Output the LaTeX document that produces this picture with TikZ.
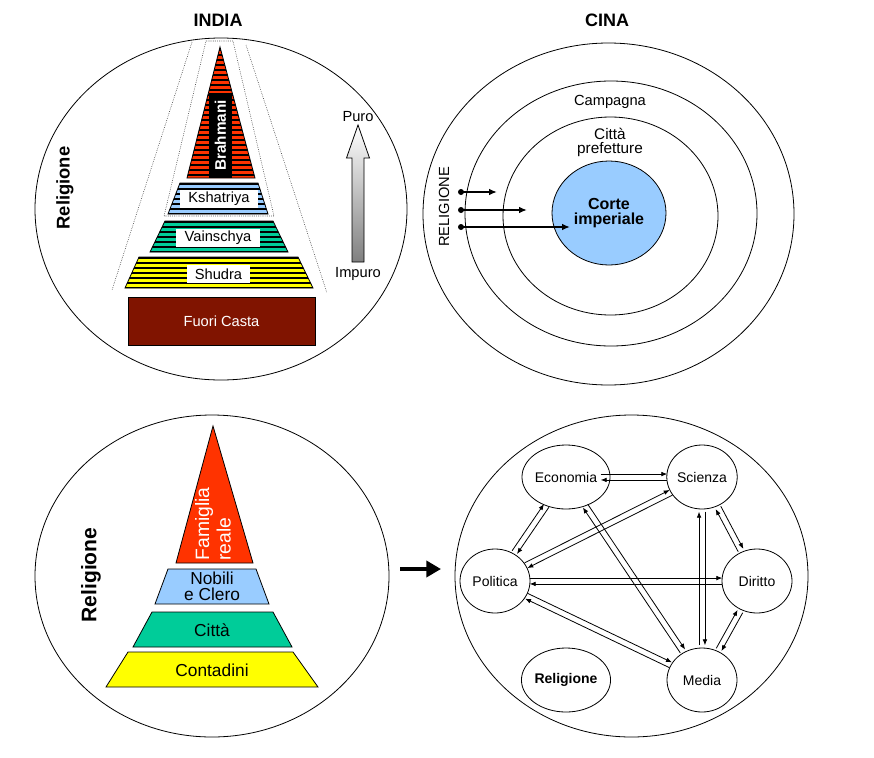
\documentclass[tikz,border=0pt]{standalone}
\usepackage{fontspec}
\setmainfont{Liberation Sans}
\usetikzlibrary{positioning,calc,arrows.meta,shapes.geometric}
\definecolor{rosso}{RGB}{255,51,0}
\definecolor{azzurro}{RGB}{153,204,255}
\definecolor{verde}{RGB}{0,204,153}
\definecolor{giallo}{RGB}{255,255,0}
\definecolor{marrone}{RGB}{128,20,0}
\tikzset{ring/.style={draw, line width=0.6pt}}
\tikzset{lab/.style={font=\fontsize{11}{12}\selectfont, inner sep=1pt, align=center}}
\tikzset{titolo/.style={font=\fontsize{13.5}{15}\selectfont\bfseries, inner sep=1pt}}
\tikzset{tag/.style={lab, fill=white, inner sep=0pt, minimum height=13.5pt}}
\tikzset{strato/.style={draw, line width=0.6pt}}
\tikzset{sfera/.style={ellipse, draw, line width=0.6pt, minimum width=52.5pt, minimum height=48pt, inner sep=0pt, font=\fontsize{10.5}{12}\selectfont}}
\tikzset{arr/.style={draw, -{Latex[length=4.5pt,width=3.5pt]}, line width=0.6pt, shorten <=26pt, shorten >=26pt}}
\tikzset{arr2/.style={draw, -{Latex[length=6pt,width=5pt]}, line width=1.5pt}}
\tikzset{dot/.style={circle, fill, inner sep=0pt, minimum size=4.5pt}}
% striped layer: colour, first stripe, outline
\newcommand\bande[3]{
		\begin{scope}
			\clip #3;
			\fill[#1] #3;
			\foreach \k in {0,...,30}
				\draw[line width=1.5pt] (100,#2+\k*5) -- (340,#2+\k*5);
		\end{scope}
		\draw[strato] #3;
	}
% two arrows, one each way
\newcommand\doppia[2]{
		\draw[arr] ($(#1)!2.2pt!90:(#2)$) -- ($(#2)!2.2pt!-90:(#1)$);
		\draw[arr] ($(#2)!2.2pt!90:(#1)$) -- ($(#1)!2.2pt!-90:(#2)$);
	}
\begin{document}
\begin{tikzpicture}[x=0.75pt, y=-0.75pt]
	\useasboundingbox (0,0) rectangle (874,757);

	% INDIA
	\node[titolo] (india) at (218,20) {INDIA};
	\draw[ring] (221,209) ellipse [x radius=186, y radius=171];
	\node[lab, rotate=90, font=\fontsize{13.8}{16}\selectfont\bfseries] (relA) at (65,188) {Religione};

	\draw[densely dotted] (192,42) -- (112,290);
	\draw[densely dotted] (246,45) -- (327,293);
	\draw[densely dotted] (206,41) -- (233,41) -- (274,216) -- (164,216) -- cycle;

	\bande{rosso}{50}{(220,47) -- (255,178) -- (187,178) -- cycle}
	\node[fill=black, text=white, rotate=90, minimum width=63.75pt, minimum height=17.25pt, inner sep=0pt,
		font=\fontsize{11.5}{12}\selectfont\bfseries] (brah) at (220.5,135.5) {Brahmani};
	\bande{azzurro}{184}{(180,183) -- (258,183) -- (268,214) -- (168,214) -- cycle}
	\node[tag, minimum width=58.5pt] (ksh) at (219,199) {Kshatriya};
	\bande{verde}{222}{(165,221) -- (273,221) -- (288,252) -- (150,252) -- cycle}
	\node[tag, minimum width=63pt] (vai) at (218,237.5) {Vainschya};
	\bande{giallo}{258}{(139,257) -- (298,257) -- (313,288) -- (125,288) -- cycle}
	\node[tag, minimum width=47.25pt] (shu) at (218.5,274) {Shudra};
	\node[lab, draw, line width=0.6pt, fill=marrone, text=white, minimum width=140.25pt, minimum height=36pt] (fuori) at (221.5,321) {Fuori Casta};

	\shade[top color=white, bottom color=black!50, draw, line width=0.6pt]
		(352,262) -- (352,158) -- (346.5,158) -- (358,125) -- (369.5,158) -- (364,158) -- (364,262) -- cycle;
	\coordinate (punta) at (358,125);
	\coordinate (coda) at (358,262);
	\node[lab, above=1pt of punta] (puro) {Puro};
	\node[lab, below=3pt of coda] (impuro) {Impuro};

	% CINA
	\node[titolo] (cina) at (607,20) {CINA};
	\draw[ring] (608.5,214) ellipse [x radius=185.5, y radius=171];
	\draw[ring] (611,213.5) ellipse [x radius=146, y radius=132.5];
	\draw[ring] (610.5,216) ellipse [x radius=107.5, y radius=99];
	\node[ellipse, draw, line width=0.6pt, fill=azzurro, minimum width=85.5pt, minimum height=78pt, inner sep=0pt,
		align=center, font=\fontsize{12}{11.5}\selectfont\bfseries] (corte) at (609,213) {Corte\\imperiale};
	\node[lab] (campagna) at (610,102) {Campagna};
	\node[lab, font=\fontsize{11.5}{10.5}\selectfont] (citta) at (610,142) {Città\\prefetture};
	\node[lab, rotate=90] (relB) at (444,207) {RELIGIONE};

	\node[dot] (d1) at (461,192) {};
	\node[dot] (d2) at (461,210) {};
	\node[dot] (d3) at (461,227) {};
	\coordinate (e1) at (497,192);
	\coordinate (e2) at (527,210);
	\coordinate (e3) at (570,227);
	\draw[arr2] (d1.center) -- (e1);
	\draw[arr2] (d2.center) -- (e2);
	\draw[arr2] (d3.center) -- (e3);

	% prima
	\draw[ring] (212,576) ellipse [x radius=177, y radius=161];
	\node[lab, rotate=90, font=\fontsize{15.8}{18}\selectfont\bfseries] (relC) at (91,575) {Religione};
	\draw[strato, fill=rosso] (213,426) -- (253,563) -- (176,563) -- cycle;
	\node[rotate=90, text=white, align=left, inner sep=0pt, font=\fontsize{14.5}{16}\selectfont] (fam) at (213,524) {Famiglia\\reale};
	\draw[strato, fill=azzurro] (168,569) -- (256,569) -- (269,604) -- (155,604) -- cycle;
	\node[lab, font=\fontsize{13}{12}\selectfont] (nobili) at (212,586) {Nobili\\e Clero};
	\draw[strato, fill=verde] (152,612) -- (273,612) -- (292,647) -- (133,647) -- cycle;
	\node[lab, font=\fontsize{13}{14}\selectfont] (cittaC) at (212,630) {Città};
	\draw[strato, fill=giallo] (128,652) -- (293,652) -- (318,687) -- (106,687) -- cycle;
	\node[lab, font=\fontsize{13}{14}\selectfont] (contadini) at (212,670) {Contadini};

	\coordinate (da) at (400,569);
	\coordinate (a) at (441,569);
	\draw[line width=3.5pt, -{Triangle[length=11pt,width=12pt]}] (da) -- (a);

	% dopo
	\draw[ring] (631.5,576) ellipse [x radius=176.5, y radius=161];
	\node[sfera] (eco) at (566,477) {Economia};
	\node[sfera] (sci) at (702,477) {Scienza};
	\node[sfera] (pol) at (495,581) {Politica};
	\node[sfera] (dir) at (757,581) {Diritto};
	\node[sfera, font=\fontsize{10.5}{12}\selectfont\bfseries] (rel) at (566,680) {Religione};
	\node[sfera] (med) at (702,680) {Media};

	\doppia{eco}{sci}
	\doppia{eco}{pol}
	\doppia{eco}{med}
	\doppia{sci}{pol}
	\doppia{sci}{med}
	\doppia{sci}{dir}
	\doppia{pol}{dir}
	\doppia{pol}{med}
	\doppia{med}{dir}
\end{tikzpicture}
\end{document}
